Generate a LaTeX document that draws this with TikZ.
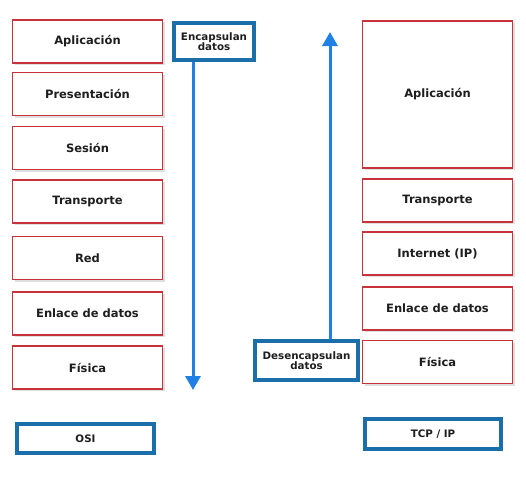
\documentclass[tikz,border=0pt]{standalone}
\usepackage{fontspec}
\setmainfont{DejaVu Sans}
\usetikzlibrary{shadows,arrows.meta}
\definecolor{redb}{HTML}{C8323A}
\definecolor{blueb}{HTML}{1A6FAA}
\definecolor{arrowb}{HTML}{1F80E6}
\definecolor{txt}{HTML}{1E1E1E}
\begin{document}
\begin{tikzpicture}[x=1pt,y=-1pt,
  layerbox/.style={draw=redb, line width=1.5pt, fill=white, inner sep=0pt,
    minimum width=150pt, minimum height=43pt, text=txt,
    font=\bfseries\fontsize{11.5}{13}\selectfont,
    drop shadow={shadow xshift=2pt, shadow yshift=-2pt, opacity=0.25, fill=gray}},
  bluebox/.style={draw=blueb, line width=3.5pt, fill=white, inner sep=0pt,
    text=txt, align=center, font=\bfseries\fontsize{10.3}{11.5}\selectfont,
    drop shadow={shadow xshift=2pt, shadow yshift=-2pt, opacity=0.35, fill=arrowb!60}},
  flow/.style={draw=arrowb, line width=3pt, -{Triangle[width=15pt,length=14pt]}}
]
\useasboundingbox (0,0) rectangle (526,480);
\fill[white] (0,0) rectangle (526,480);
% OSI stack
\node[layerbox] (oapl) at (87.5,41.5) {Aplicación};
\node[layerbox] (opre) at (87.5,94) {Presentación};
\node[layerbox] (oses) at (87.5,148) {Sesión};
\node[layerbox] (otra) at (87.5,201.5) {Transporte};
\node[layerbox] (ored) at (87.5,258) {Red};
\node[layerbox] (oenl) at (87.5,313.5) {Enlace de datos};
\node[layerbox] (ofis) at (87.5,367.5) {Física};
% TCP/IP stack
\node[layerbox, minimum height=147pt] (tapl) at (437.5,94.5) {Aplicación};
\node[layerbox] (ttra) at (437.5,200.5) {Transporte};
\node[layerbox] (tint) at (437.5,253.5) {Internet (IP)};
\node[layerbox] (tenl) at (437.5,308.5) {Enlace de datos};
\node[layerbox] (tfis) at (437.5,362) {Física};
% blue boxes
\node[bluebox, minimum width=80pt, minimum height=37pt] (enc) at (214,41.5) {Encapsulan\\[-1pt]datos};
\node[bluebox, minimum width=103pt, minimum height=39pt] (des) at (306.5,360.5) {Desencapsulan\\[-1pt]datos};
\node[bluebox, minimum width=137pt, minimum height=29pt] (osi) at (85.5,438.5) {OSI};
\node[bluebox, minimum width=136pt, minimum height=30pt] (tcp) at (433,434) {TCP / IP};
% arrows
\coordinate (downend) at (193,390);
\coordinate (upend) at (330,32);
\draw[flow] (enc.south -| downend) -- (downend);
\draw[flow] (des.north -| upend) -- (upend);
\end{tikzpicture}
\end{document}
